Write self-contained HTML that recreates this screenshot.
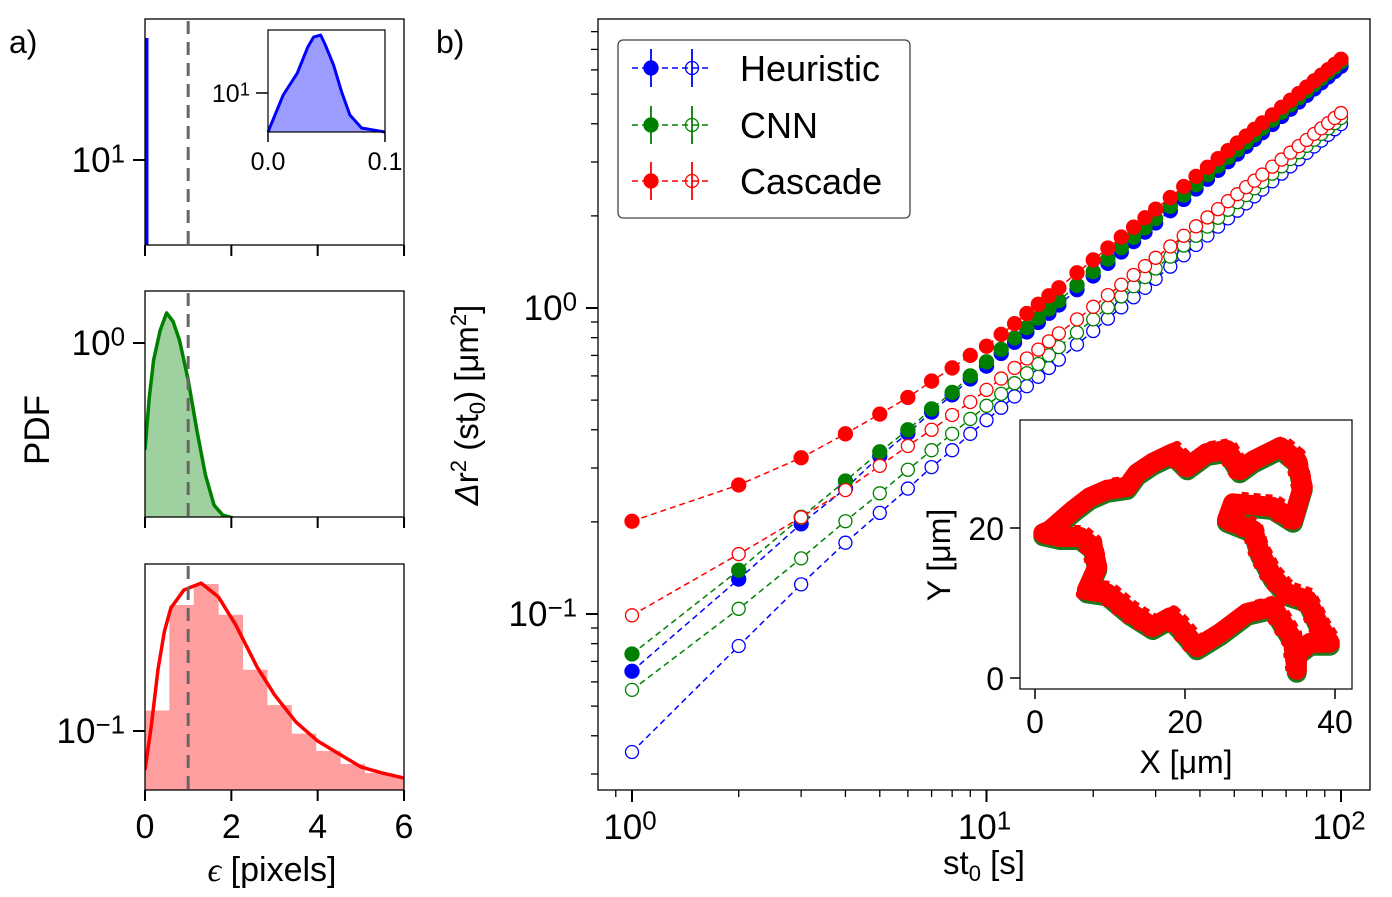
<!DOCTYPE html>
<html><head><meta charset="utf-8"><style>
html,body{margin:0;padding:0;background:#fff;}
svg{display:block;font-family:"Liberation Sans",sans-serif;}
</style></head><body>
<svg id="fig" width="1392" height="897" viewBox="0 0 1392 897" xmlns="http://www.w3.org/2000/svg">
<g id="left"></g>
<g id="right"></g>
</svg>
<script>
// ---------- Panel a data ----------
const p1InsetX = [0, 0.013, 0.025, 0.034, 0.039, 0.045, 0.049, 0.056, 0.063, 0.07, 0.08, 0.1];
const p1InsetY = [4.07, 9.55, 15.8, 28.8, 36.3, 38, 30.2, 19.1, 10.2, 6.03, 4.47, 4.07];
const p2X = [0, 0.1, 0.2, 0.35, 0.5, 0.65, 0.8, 1.0, 1.2, 1.4, 1.6, 1.8, 2.5, 4, 6];
const p2Y = [0.44, 0.66, 0.878, 1.1, 1.26, 1.18, 1.02, 0.753, 0.513, 0.363, 0.288, 0.267, 0.25, 0.25, 0.25];
const p3BinW = 0.565;
const p3Bins = [0.117, 0.263, 0.309, 0.244, 0.16, 0.122, 0.098, 0.0858, 0.0776, 0.0724, 0.0703];
const p3X = [0, 0.15, 0.3, 0.45, 0.6, 0.9, 1.3, 1.7, 2.1, 2.6, 3, 3.5, 4, 4.5, 5, 5.5, 6];
const p3Y = [0.0741, 0.105, 0.16, 0.215, 0.257, 0.295, 0.311, 0.28, 0.226, 0.163, 0.132, 0.107, 0.0926, 0.0838, 0.0759, 0.0724, 0.0697];
const leftXTicks = [0, 2, 4, 6];

// ---------- Panel b data ----------
const times = [1,2,3,4,5,6,7,8,9,10,11,12,13,14,15,16,18,20,22,24,26,28,30,33,36,39,42,45,48,51,54,57,60,64,68,72,76,80,84,88,92,96,100];
const heurFilled = [0.065,0.13,0.197,0.257,0.328,0.39,0.457,0.52,0.586,0.646,0.710,0.772,0.835,0.897,0.961,1.023,1.148,1.273,1.399,1.524,1.648,1.770,1.896,2.079,2.264,2.448,2.636,2.818,3.006,3.184,3.372,3.556,3.740,3.979,4.225,4.465,4.708,4.953,5.198,5.443,5.687,5.928,6.164];
const cnnFilled = [0.074,0.139,0.207,0.272,0.339,0.40,0.468,0.53,0.60,0.667,0.733,0.798,0.863,0.927,0.993,1.057,1.186,1.315,1.445,1.574,1.702,1.828,1.959,2.148,2.339,2.529,2.723,2.911,3.105,3.289,3.483,3.673,3.864,4.111,4.365,4.613,4.864,5.117,5.370,5.623,5.875,6.124,6.368];
const cascFilled = [0.201,0.264,0.324,0.388,0.45,0.51,0.577,0.637,0.70,0.75,0.820,0.889,0.959,1.028,1.096,1.164,1.303,1.436,1.570,1.706,1.837,1.972,2.104,2.296,2.495,2.692,2.884,3.076,3.266,3.459,3.648,3.837,4.027,4.276,4.529,4.775,5.023,5.272,5.521,5.768,6.012,6.252,6.501];
const heurOpen = [0.0354,0.0786,0.125,0.171,0.214,0.257,0.302,0.343,0.388,0.43,0.472,0.514,0.555,0.596,0.637,0.678,0.760,0.841,0.923,1.005,1.084,1.164,1.245,1.365,1.486,1.607,1.726,1.845,1.963,2.080,2.198,2.317,2.438,2.594,2.748,2.904,3.062,3.214,3.373,3.524,3.681,3.837,3.990];
const cnnOpen = [0.0565,0.104,0.152,0.201,0.248,0.296,0.343,0.388,0.434,0.479,0.524,0.568,0.612,0.656,0.701,0.745,0.832,0.918,1.005,1.091,1.178,1.262,1.346,1.472,1.600,1.722,1.845,1.972,2.094,2.218,2.339,2.460,2.582,2.748,2.904,3.069,3.228,3.388,3.548,3.707,3.864,4.018,4.178];
const cascOpen = [0.099,0.157,0.207,0.254,0.305,0.354,0.40,0.447,0.493,0.54,0.588,0.637,0.684,0.731,0.778,0.826,0.918,1.009,1.102,1.191,1.282,1.371,1.459,1.589,1.722,1.849,1.977,2.104,2.234,2.355,2.483,2.606,2.729,2.897,3.055,3.221,3.381,3.540,3.707,3.864,4.018,4.178,4.335];
const trajX = [2,5.1,7.3,9.6,12.3,13.6,15.7,18.4,20.3,22.9,25.6,27.3,29.1,32.7,34.9,35.7,34.4,31.7,26.4,25.6,29.1,30,31.7,33.6,36.3,38,39.3,36.7,34.9,34.9,34.4,31.7,28.3,24.7,21.6,19.3,18,15.7,12.7,9.6,6.9,8.3,7.7,6,3.3,1.1,2];
const trajY = [19.7,22.4,24.1,25.1,25.5,27.3,28.7,30,28.1,30,30.4,27.7,29,30.8,29,25.5,21.1,22.8,23.3,21.1,19.7,16.7,13.5,11.3,10.4,6.8,4.7,4.7,3.3,1.1,5.1,9.5,8.7,6,4.1,6.8,8.1,6.8,8.7,11.3,11.7,14.8,17.5,18.8,18.8,19.3,19.7];
const mainXTicks = [1, 10, 100];
const mainXTickExp = ["0", "1", "2"];
const mainYTicks = [0.1, 1];
const mainYTickExp = ["\u22121", "0"];
const insetTickVals = [0, 20, 40];

const NS = "http://www.w3.org/2000/svg";
function mk(parent, tag, attrs, text) {
  const e = document.createElementNS(NS, tag);
  for (const k in attrs) e.setAttribute(k, attrs[k]);
  if (text !== undefined) e.textContent = text;
  parent.appendChild(e);
  return e;
}
function powLabel(parent, x, y, base, exp, size, anchor) {
  const t = mk(parent, "text", {x: x, y: y, "font-size": size, "text-anchor": anchor || "middle"});
  const a = document.createElementNS(NS, "tspan"); a.textContent = base; t.appendChild(a);
  const b = document.createElementNS(NS, "tspan"); b.textContent = exp;
  b.setAttribute("font-size", size * 0.74); b.setAttribute("dy", -size * 0.27); t.appendChild(b);
  return t;
}
const L = document.getElementById("left");
const R = document.getElementById("right");

// ---------- Left panels ----------
const lx = v => 145 + v * 43.17;
const panels = [{top:19, bot:245}, {top:291, bot:517}, {top:564, bot:790}];
function ly(p, ref, refPx, v) { return refPx - 300 * Math.log10(v / ref); }

panels.forEach((p, i) => {
  const g = mk(L, "g", {});
  
  
  mk(g, "defs", {}).innerHTML = `<clipPath id="clipL${i}"><rect x="145" y="${p.top}" width="259" height="${p.bot - p.top}"/></clipPath>`;
  p.g = g;
});
// Panel 1
(function(){
  const g = panels[0].g;
  const line = mk(g, "line", {x1:147, y1:38, x2:147, y2:245, stroke:"#00f", "stroke-width":3});
  
  
  const ig = mk(g, "g", {});
  
  
  const ix = v => 268 + v * 1170, iy = v => 93 - 100 * Math.log10(v / 10);
  let d = "M" + ix(p1InsetX[0]) + " 132";
  p1InsetX.forEach((x, k) => d += " L" + ix(x) + " " + Math.min(132, iy(p1InsetY[k])));
  d += " L" + ix(p1InsetX[p1InsetX.length-1]) + " 132 Z";
  const f = mk(ig, "path", {d: d, fill:"#9c9cff"});
  
  
  let d2 = "";
  p1InsetX.forEach((x, k) => d2 += (k ? " L" : "M") + ix(x) + " " + Math.min(132, iy(p1InsetY[k])));
  const c = mk(ig, "path", {d: d2, fill:"none", stroke:"#00f", "stroke-width":3, "stroke-linejoin":"round"});
  
  
  mk(ig, "rect", {x:268, y:30, width:117, height:102, fill:"none", stroke:"#000", "stroke-width":1.2});
  mk(ig, "line", {x1:256, y1:93, x2:268, y2:93, stroke:"#000", "stroke-width":1.5});
  powLabel(ig, 250, 102, "10", "1", 25, "end");
  [0, 0.1].forEach((v, k) => {
    mk(ig, "line", {x1:ix(v), y1:132, x2:ix(v), y2:142, stroke:"#000", "stroke-width":1.5});
    mk(ig, "text", {x:ix(v), y:170, "font-size":25, "text-anchor":"middle"}, k ? "0.1" : "0.0");
  });
})();
// Panel 2
(function(){
  const g = panels[1].g;
  const yy = v => ly(panels[1], 1, 343, v);
  let d = "M145 517";
  p2X.forEach((x, k) => d += " L" + lx(x) + " " + yy(p2Y[k]));
  d += " L404 517 Z";
  const f = mk(g, "path", {d: d, fill:"#9fd09f", "clip-path":"url(#clipL1)"});
  
  
  let d2 = "";
  p2X.forEach((x, k) => d2 += (k ? " L" : "M") + lx(x) + " " + yy(p2Y[k]));
  const c = mk(g, "path", {d: d2, fill:"none", stroke:"#008000", "stroke-width":3.5, "stroke-linejoin":"round", "clip-path":"url(#clipL1)"});
  
  
})();
// Panel 3
(function(){
  const g = panels[2].g;
  const yy = v => ly(panels[2], 0.1, 731, v);
  p3Bins.forEach((v, k) => {
    const x0 = lx(k * p3BinW), x1 = Math.min(404, lx((k + 1) * p3BinW));
    const r = mk(g, "rect", {x:x0, y:yy(v), width:x1 - x0 + 0.5, height:790 - yy(v), fill:"#ff9e9e"});
    
    
  });
  let d2 = "";
  p3X.forEach((x, k) => d2 += (k ? " L" : "M") + lx(x) + " " + yy(p3Y[k]));
  const c = mk(g, "path", {d: d2, fill:"none", stroke:"#f00", "stroke-width":3.5, "stroke-linejoin":"round", "clip-path":"url(#clipL2)"});
  
  
})();
const yTickInfo = [[160, "1"], [343, "0"], [731, "\u22121"]];
panels.forEach((p, i) => {
  const g = p.g;
  const dl = mk(g, "line", {x1:lx(1), y1:p.top + 2, x2:lx(1), y2:p.bot, stroke:"#666", "stroke-width":3, "stroke-dasharray":"13,8"});
  
  
  mk(g, "rect", {x:145, y:p.top, width:259, height:p.bot - p.top, fill:"none", stroke:"#000", "stroke-width":1.3});
  leftXTicks.forEach(v => {
    mk(g, "line", {x1:lx(v), y1:p.bot, x2:lx(v), y2:p.bot + 11, stroke:"#000", "stroke-width":2});
    if (i === 2) mk(g, "text", {x:lx(v), y:838, "font-size":34, "text-anchor":"middle"}, String(v));
  });
  const ty = yTickInfo[i][0];
  mk(g, "line", {x1:133, y1:ty, x2:145, y2:ty, stroke:"#000", "stroke-width":2});
  powLabel(g, 125, ty + 12, "10", yTickInfo[i][1], 35, "end");
});
const et = mk(L, "text", {x:272, y:881, "font-size":34, "text-anchor":"middle"});
et.innerHTML = '<tspan font-style="italic" font-family="Liberation Serif, serif">ϵ</tspan><tspan> [pixels]</tspan>';


const pdf = mk(L, "text", {x:0, y:0, "font-size":35, "text-anchor":"middle", transform:"translate(49,430) rotate(-90)"}, "PDF");


mk(L, "text", {x:9, y:53, "font-size":32}, "a)");

// ---------- Right panel ----------
const X = t => 632 + 354.5 * Math.log10(t);
const Y = v => 308 - 306 * Math.log10(v);
mk(R, "text", {x:436, y:53, "font-size":32}, "b)");
mk(R, "defs", {}).innerHTML = '<clipPath id="clipR"><rect x="598" y="19" width="772" height="771"/></clipPath>';
const series = [
  {name:"heuristic-filled", vals:heurFilled, col:"#00f", fill:true},
  {name:"heuristic-open", vals:heurOpen, col:"#00f", fill:false},
  {name:"cnn-filled", vals:cnnFilled, col:"#008000", fill:true},
  {name:"cnn-open", vals:cnnOpen, col:"#008000", fill:false},
  {name:"cascade-open", vals:cascOpen, col:"#f00", fill:false},
  {name:"cascade-filled", vals:cascFilled, col:"#f00", fill:true}
];
const sg = mk(R, "g", {"clip-path":"url(#clipR)"});
series.forEach(s => {
  const g = mk(sg, "g", {});
  
  
  let d = "";
  times.forEach((t, k) => d += (k ? " L" : "M") + X(t).toFixed(1) + " " + Y(s.vals[k]).toFixed(1));
  mk(g, "path", {d: d, fill:"none", stroke:s.col, "stroke-width":1.5, "stroke-dasharray":"6,4"});
  times.forEach((t, k) => {
    const cx = X(t), cy = Y(s.vals[k]);
    mk(g, "line", {x1:cx, y1:cy - 4, x2:cx, y2:cy + 4, stroke:s.col, "stroke-width":1.5});
    const c = mk(g, "circle", {cx:cx, cy:cy, r: s.fill ? 7 : 6.5, fill: s.fill ? s.col : "#fff", stroke:s.col, "stroke-width":1.3});
    
    
  });
});
mk(R, "rect", {x:598, y:19, width:772, height:771, fill:"none", stroke:"#000", "stroke-width":1.3});
for (let dec = -1; dec <= 2; dec++) {
  for (let m = 1; m <= 9; m++) {
    const t = m * Math.pow(10, dec), x = X(t);
    if (x < 598 || x > 1370) continue;
    const major = m === 1;
    mk(R, "line", {x1:x, y1:790, x2:x, y2:790 + (major ? 12 : 7), stroke:"#000", "stroke-width":major ? 2 : 1.3});
  }
}
mainXTicks.forEach((t, k) => powLabel(R, X(t) - 2, 839, "10", mainXTickExp[k], 35, "middle"));
for (let dec = -2; dec <= 1; dec++) {
  for (let m = 1; m <= 9; m++) {
    const v = m * Math.pow(10, dec), y = Y(v);
    if (y < 19 || y > 790) continue;
    const major = m === 1;
    mk(R, "line", {x1:598 - (major ? 12 : 7), y1:y, x2:598, y2:y, stroke:"#000", "stroke-width":major ? 2 : 1.3});
  }
}
mainYTicks.forEach((v, k) => powLabel(R, 577, Y(v) + 12, "10", mainYTickExp[k], 35, "end"));
const xt = mk(R, "text", {x:984, y:874, "font-size":33, "text-anchor":"middle"});
xt.innerHTML = 'st<tspan font-size="22" dy="7">0</tspan><tspan dy="-7"> [s]</tspan>';


const yt = mk(R, "text", {x:0, y:0, "font-size":33, "text-anchor":"middle", transform:"translate(478,405) rotate(-90)"});
yt.innerHTML = '<tspan font-style="italic">Δ</tspan>r<tspan font-size="22" dy="-12">2</tspan><tspan dy="12"> (st</tspan><tspan font-size="22" dy="7">0</tspan><tspan dy="-7">) [μm</tspan><tspan font-size="22" dy="-12">2</tspan><tspan dy="12">]</tspan>';



// legend
const lg = mk(R, "g", {});


mk(lg, "rect", {x:618, y:40, width:292, height:178, rx:5, fill:"#fff", stroke:"#444", "stroke-width":1.3});
[["Heuristic", "#00f", 68], ["CNN", "#008000", 125], ["Cascade", "#f00", 181]].forEach(e => {
  const eg = mk(lg, "g", {});
  
  
  const y = e[2];
  mk(eg, "line", {x1:632, y1:y, x2:710, y2:y, stroke:e[1], "stroke-width":1.5, "stroke-dasharray":"6,4"});
  [651, 692].forEach((x, k) => {
    mk(eg, "line", {x1:x, y1:y - 19, x2:x, y2:y + 19, stroke:e[1], "stroke-width":1.8});
    mk(eg, "circle", {cx:x, cy:y, r:k ? 6.5 : 7, fill:k ? "none" : e[1], stroke:e[1], "stroke-width":1.3});
  });
  mk(eg, "text", {x:740, y:y + 13, "font-size":36}, e[0]);
});

// trajectory inset
const tg = mk(R, "g", {});


const TX = v => 1035 + 7.5 * v, TY = v => 678 - 7.5 * v;
mk(tg, "rect", {x:1020, y:420, width:332, height:269, fill:"#fff", stroke:"#000", "stroke-width":1.2});
let td = "";
trajX.forEach((x, k) => td += (k ? " L" : "M") + TX(x).toFixed(1) + " " + TY(trajY[k]).toFixed(1));
mk(tg, "path", {d: td, fill:"none", stroke:"#1f7a1f", "stroke-width":20, "stroke-linejoin":"round", "stroke-linecap":"round", transform:"translate(0,3)"});
const tp = mk(tg, "path", {d: td, fill:"none", stroke:"#f00", "stroke-width":20, "stroke-linejoin":"round", "stroke-linecap":"round"});


mk(tg, "path", {d: td, fill:"none", stroke:"#f00", "stroke-width":10, "stroke-dasharray":"7,5", "stroke-linejoin":"round", transform:"translate(4,-7)"});
mk(tg, "path", {d: td, fill:"none", stroke:"#f00", "stroke-width":10, "stroke-dasharray":"5,8", "stroke-linejoin":"round", transform:"translate(-6,4)"});
insetTickVals.forEach(v => {
  mk(tg, "line", {x1:TX(v), y1:689, x2:TX(v), y2:699, stroke:"#000", "stroke-width":1.5});
  mk(tg, "text", {x:TX(v), y:733, "font-size":32, "text-anchor":"middle"}, String(v));
  if (v <= 20) {
    mk(tg, "line", {x1:1010, y1:TY(v), x2:1020, y2:TY(v), stroke:"#000", "stroke-width":1.5});
    mk(tg, "text", {x:1004, y:TY(v) + 12, "font-size":32, "text-anchor":"end"}, String(v));
  }
});
mk(tg, "text", {x:1186, y:773, "font-size":32, "text-anchor":"middle"}, "X [μm]");
mk(tg, "text", {x:0, y:0, "font-size":32, "text-anchor":"middle", transform:"translate(950,555) rotate(-90)"}, "Y [μm]");
</script>
</body></html>
